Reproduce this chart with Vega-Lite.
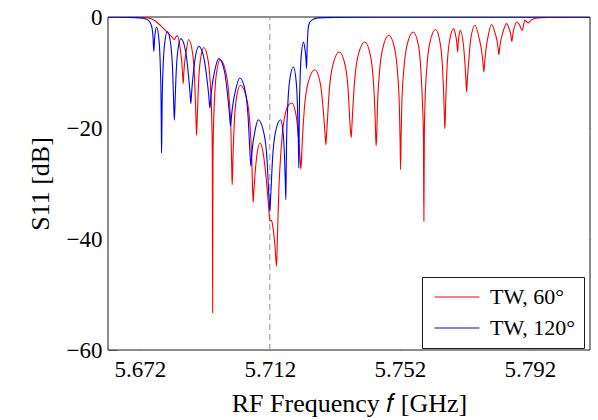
{
  "$schema": "https://vega.github.io/schema/vega-lite/v6.json",
  "width": 482,
  "height": 333,
  "autosize": {"type": "none"},
  "padding": {"left": 108, "top": 17, "right": 8, "bottom": 70},
  "background": "white",
  "config": {
    "view": {"stroke": null},
    "font": "Liberation Serif",
    "axis": {
      "grid": false,
      "domain": false,
      "ticks": true,
      "tickColor": "#7a7a7a",
      "tickSize": 9,
      "tickWidth": 1,
      "offset": -9,
      "labelFont": "Liberation Serif",
      "labelFontSize": 23,
      "labelColor": "black",
      "titleFont": "Liberation Serif",
      "titleFontSize": 26,
      "titleFontWeight": "normal",
      "titleColor": "black"
    }
  },
  "datasets": {
    "frame": [{"x1": 5.6622, "x2": 5.8105, "y1": -60, "y2": 0}],
    "ref": [{"f": 5.712, "lo": -60, "hi": 0}],
    "s11": [
      {"s": "TW, 60°", "f": 5.662154, "db": -0.02},
      {"s": "TW, 60°", "f": 5.672, "db": -0.04},
      {"s": "TW, 60°", "f": 5.674462, "db": -0.15},
      {"s": "TW, 60°", "f": 5.676, "db": -0.45},
      {"s": "TW, 60°", "f": 5.677231, "db": -0.95},
      {"s": "TW, 60°", "f": 5.679077, "db": -1.95},
      {"s": "TW, 60°", "f": 5.680615, "db": -2.85},
      {"s": "TW, 60°", "f": 5.681846, "db": -3.6},
      {"s": "TW, 60°", "f": 5.682554, "db": -4.05},
      {"s": "TW, 60°", "f": 5.683077, "db": -3.6},
      {"s": "TW, 60°", "f": 5.6836, "db": -3.4},
      {"s": "TW, 60°", "f": 5.684462, "db": -5.9},
      {"s": "TW, 60°", "f": 5.684892, "db": -8.13},
      {"s": "TW, 60°", "f": 5.685151, "db": -10.28},
      {"s": "TW, 60°", "f": 5.685323, "db": -12.0},
      {"s": "TW, 60°", "f": 5.685492, "db": -10.41},
      {"s": "TW, 60°", "f": 5.685748, "db": -8.42},
      {"s": "TW, 60°", "f": 5.686169, "db": -6.55},
      {"s": "TW, 60°", "f": 5.687015, "db": -4.05},
      {"s": "TW, 60°", "f": 5.688231, "db": -6.55},
      {"s": "TW, 60°", "f": 5.68884, "db": -11.05},
      {"s": "TW, 60°", "f": 5.6892, "db": -17.05},
      {"s": "TW, 60°", "f": 5.689348, "db": -19.92},
      {"s": "TW, 60°", "f": 5.689446, "db": -21.3},
      {"s": "TW, 60°", "f": 5.689535, "db": -20.04},
      {"s": "TW, 60°", "f": 5.689671, "db": -18.14},
      {"s": "TW, 60°", "f": 5.690009, "db": -12.5},
      {"s": "TW, 60°", "f": 5.690569, "db": -8.0},
      {"s": "TW, 60°", "f": 5.691692, "db": -5.5},
      {"s": "TW, 60°", "f": 5.693046, "db": -8.0},
      {"s": "TW, 60°", "f": 5.693723, "db": -12.5},
      {"s": "TW, 60°", "f": 5.694129, "db": -18.5},
      {"s": "TW, 60°", "f": 5.694292, "db": -24.5},
      {"s": "TW, 60°", "f": 5.6944, "db": -53.3},
      {"s": "TW, 60°", "f": 5.694492, "db": -26.7},
      {"s": "TW, 60°", "f": 5.694631, "db": -20.7},
      {"s": "TW, 60°", "f": 5.694978, "db": -14.7},
      {"s": "TW, 60°", "f": 5.695554, "db": -10.2},
      {"s": "TW, 60°", "f": 5.696708, "db": -7.7},
      {"s": "TW, 60°", "f": 5.698554, "db": -10.2},
      {"s": "TW, 60°", "f": 5.699477, "db": -14.7},
      {"s": "TW, 60°", "f": 5.700031, "db": -20.7},
      {"s": "TW, 60°", "f": 5.700252, "db": -26.7},
      {"s": "TW, 60°", "f": 5.7004, "db": -30.2},
      {"s": "TW, 60°", "f": 5.700502, "db": -28.77},
      {"s": "TW, 60°", "f": 5.700652, "db": -25.3},
      {"s": "TW, 60°", "f": 5.701031, "db": -19.3},
      {"s": "TW, 60°", "f": 5.701662, "db": -14.8},
      {"s": "TW, 60°", "f": 5.702923, "db": -12.3},
      {"s": "TW, 60°", "f": 5.704892, "db": -14.8},
      {"s": "TW, 60°", "f": 5.705877, "db": -19.3},
      {"s": "TW, 60°", "f": 5.706406, "db": -25.3},
      {"s": "TW, 60°", "f": 5.706705, "db": -31.3},
      {"s": "TW, 60°", "f": 5.706862, "db": -33.4},
      {"s": "TW, 60°", "f": 5.707077, "db": -31.26},
      {"s": "TW, 60°", "f": 5.7074, "db": -28.59},
      {"s": "TW, 60°", "f": 5.707938, "db": -25.2},
      {"s": "TW, 60°", "f": 5.709015, "db": -22.7},
      {"s": "TW, 60°", "f": 5.709846, "db": -24.2},
      {"s": "TW, 60°", "f": 5.710769, "db": -28.5},
      {"s": "TW, 60°", "f": 5.711538, "db": -33.5},
      {"s": "TW, 60°", "f": 5.712, "db": -36.8},
      {"s": "TW, 60°", "f": 5.712462, "db": -36.6},
      {"s": "TW, 60°", "f": 5.712923, "db": -37.8},
      {"s": "TW, 60°", "f": 5.713538, "db": -41.0},
      {"s": "TW, 60°", "f": 5.714062, "db": -44.9},
      {"s": "TW, 60°", "f": 5.714308, "db": -40.0},
      {"s": "TW, 60°", "f": 5.714769, "db": -31.0},
      {"s": "TW, 60°", "f": 5.715385, "db": -24.5},
      {"s": "TW, 60°", "f": 5.716092, "db": -19.7},
      {"s": "TW, 60°", "f": 5.716923, "db": -17.0},
      {"s": "TW, 60°", "f": 5.717846, "db": -15.8},
      {"s": "TW, 60°", "f": 5.718769, "db": -15.5},
      {"s": "TW, 60°", "f": 5.720154, "db": -18.0},
      {"s": "TW, 60°", "f": 5.720846, "db": -22.05},
      {"s": "TW, 60°", "f": 5.721262, "db": -25.02},
      {"s": "TW, 60°", "f": 5.721538, "db": -27.4},
      {"s": "TW, 60°", "f": 5.721711, "db": -25.97},
      {"s": "TW, 60°", "f": 5.721969, "db": -22.5},
      {"s": "TW, 60°", "f": 5.722615, "db": -16.5},
      {"s": "TW, 60°", "f": 5.723692, "db": -12.0},
      {"s": "TW, 60°", "f": 5.725846, "db": -9.5},
      {"s": "TW, 60°", "f": 5.727538, "db": -12.0},
      {"s": "TW, 60°", "f": 5.728385, "db": -16.5},
      {"s": "TW, 60°", "f": 5.728892, "db": -20.3},
      {"s": "TW, 60°", "f": 5.729231, "db": -23.0},
      {"s": "TW, 60°", "f": 5.729397, "db": -21.66},
      {"s": "TW, 60°", "f": 5.729646, "db": -19.3},
      {"s": "TW, 60°", "f": 5.730271, "db": -13.3},
      {"s": "TW, 60°", "f": 5.731308, "db": -8.8},
      {"s": "TW, 60°", "f": 5.733385, "db": -6.3},
      {"s": "TW, 60°", "f": 5.7352, "db": -8.8},
      {"s": "TW, 60°", "f": 5.736108, "db": -13.3},
      {"s": "TW, 60°", "f": 5.736591, "db": -18.62},
      {"s": "TW, 60°", "f": 5.737015, "db": -21.7},
      {"s": "TW, 60°", "f": 5.737185, "db": -20.32},
      {"s": "TW, 60°", "f": 5.737437, "db": -17.5},
      {"s": "TW, 60°", "f": 5.738071, "db": -11.5},
      {"s": "TW, 60°", "f": 5.739123, "db": -7.0},
      {"s": "TW, 60°", "f": 5.741231, "db": -4.5},
      {"s": "TW, 60°", "f": 5.742969, "db": -7.0},
      {"s": "TW, 60°", "f": 5.74384, "db": -11.5},
      {"s": "TW, 60°", "f": 5.74436, "db": -17.5},
      {"s": "TW, 60°", "f": 5.744569, "db": -21.7},
      {"s": "TW, 60°", "f": 5.744708, "db": -23.2},
      {"s": "TW, 60°", "f": 5.744865, "db": -21.6},
      {"s": "TW, 60°", "f": 5.745098, "db": -16.3},
      {"s": "TW, 60°", "f": 5.745686, "db": -10.3},
      {"s": "TW, 60°", "f": 5.746662, "db": -5.8},
      {"s": "TW, 60°", "f": 5.748615, "db": -3.3},
      {"s": "TW, 60°", "f": 5.750415, "db": -5.8},
      {"s": "TW, 60°", "f": 5.751317, "db": -10.3},
      {"s": "TW, 60°", "f": 5.751855, "db": -16.3},
      {"s": "TW, 60°", "f": 5.752071, "db": -22.3},
      {"s": "TW, 60°", "f": 5.752215, "db": -27.5},
      {"s": "TW, 60°", "f": 5.752369, "db": -21.7},
      {"s": "TW, 60°", "f": 5.752603, "db": -15.7},
      {"s": "TW, 60°", "f": 5.753185, "db": -9.7},
      {"s": "TW, 60°", "f": 5.754154, "db": -5.2},
      {"s": "TW, 60°", "f": 5.756092, "db": -2.7},
      {"s": "TW, 60°", "f": 5.757738, "db": -5.2},
      {"s": "TW, 60°", "f": 5.758471, "db": -9.7},
      {"s": "TW, 60°", "f": 5.758963, "db": -15.7},
      {"s": "TW, 60°", "f": 5.759252, "db": -21.7},
      {"s": "TW, 60°", "f": 5.759385, "db": -36.8},
      {"s": "TW, 60°", "f": 5.759529, "db": -21.25},
      {"s": "TW, 60°", "f": 5.759745, "db": -15.25},
      {"s": "TW, 60°", "f": 5.760286, "db": -9.25},
      {"s": "TW, 60°", "f": 5.761185, "db": -4.75},
      {"s": "TW, 60°", "f": 5.762985, "db": -2.25},
      {"s": "TW, 60°", "f": 5.764415, "db": -4.75},
      {"s": "TW, 60°", "f": 5.765132, "db": -9.25},
      {"s": "TW, 60°", "f": 5.76556, "db": -15.25},
      {"s": "TW, 60°", "f": 5.765732, "db": -18.67},
      {"s": "TW, 60°", "f": 5.765846, "db": -20.1},
      {"s": "TW, 60°", "f": 5.765954, "db": -18.66},
      {"s": "TW, 60°", "f": 5.766117, "db": -15.1},
      {"s": "TW, 60°", "f": 5.766523, "db": -9.1},
      {"s": "TW, 60°", "f": 5.7672, "db": -4.6},
      {"s": "TW, 60°", "f": 5.768554, "db": -2.1},
      {"s": "TW, 60°", "f": 5.769169, "db": -3.36},
      {"s": "TW, 60°", "f": 5.769477, "db": -4.41},
      {"s": "TW, 60°", "f": 5.769785, "db": -6.3},
      {"s": "TW, 60°", "f": 5.769969, "db": -4.55},
      {"s": "TW, 60°", "f": 5.770169, "db": -3.57},
      {"s": "TW, 60°", "f": 5.770554, "db": -2.4},
      {"s": "TW, 60°", "f": 5.771538, "db": -4.9},
      {"s": "TW, 60°", "f": 5.772031, "db": -8.5},
      {"s": "TW, 60°", "f": 5.772326, "db": -11.28},
      {"s": "TW, 60°", "f": 5.772523, "db": -13.5},
      {"s": "TW, 60°", "f": 5.772778, "db": -11.1},
      {"s": "TW, 60°", "f": 5.773163, "db": -8.1},
      {"s": "TW, 60°", "f": 5.7738, "db": -4.0},
      {"s": "TW, 60°", "f": 5.775077, "db": -1.5},
      {"s": "TW, 60°", "f": 5.776462, "db": -4.0},
      {"s": "TW, 60°", "f": 5.777154, "db": -6.12},
      {"s": "TW, 60°", "f": 5.777569, "db": -8.22},
      {"s": "TW, 60°", "f": 5.777846, "db": -9.9},
      {"s": "TW, 60°", "f": 5.778083, "db": -8.19},
      {"s": "TW, 60°", "f": 5.77844, "db": -6.05},
      {"s": "TW, 60°", "f": 5.779031, "db": -3.85},
      {"s": "TW, 60°", "f": 5.780215, "db": -1.35},
      {"s": "TW, 60°", "f": 5.781338, "db": -2.99},
      {"s": "TW, 60°", "f": 5.781901, "db": -4.35},
      {"s": "TW, 60°", "f": 5.782237, "db": -5.71},
      {"s": "TW, 60°", "f": 5.782462, "db": -6.8},
      {"s": "TW, 60°", "f": 5.782698, "db": -5.68},
      {"s": "TW, 60°", "f": 5.783055, "db": -4.28},
      {"s": "TW, 60°", "f": 5.783646, "db": -2.88},
      {"s": "TW, 60°", "f": 5.784831, "db": -1.2},
      {"s": "TW, 60°", "f": 5.785646, "db": -2.16},
      {"s": "TW, 60°", "f": 5.786055, "db": -2.96},
      {"s": "TW, 60°", "f": 5.786462, "db": -4.4},
      {"s": "TW, 60°", "f": 5.786825, "db": -2.83},
      {"s": "TW, 60°", "f": 5.787185, "db": -1.95},
      {"s": "TW, 60°", "f": 5.787908, "db": -0.9},
      {"s": "TW, 60°", "f": 5.788769, "db": -1.35},
      {"s": "TW, 60°", "f": 5.789631, "db": -2.4},
      {"s": "TW, 60°", "f": 5.790462, "db": -0.6},
      {"s": "TW, 60°", "f": 5.791477, "db": -1.05},
      {"s": "TW, 60°", "f": 5.792308, "db": -0.6},
      {"s": "TW, 60°", "f": 5.793231, "db": -0.3},
      {"s": "TW, 60°", "f": 5.794462, "db": -0.15},
      {"s": "TW, 60°", "f": 5.797538, "db": -0.06},
      {"s": "TW, 60°", "f": 5.8104, "db": -0.02},
      {"s": "TW, 120°", "f": 5.662154, "db": -0.05},
      {"s": "TW, 120°", "f": 5.668923, "db": -0.08},
      {"s": "TW, 120°", "f": 5.672, "db": -0.15},
      {"s": "TW, 120°", "f": 5.673538, "db": -0.3},
      {"s": "TW, 120°", "f": 5.674769, "db": -0.7},
      {"s": "TW, 120°", "f": 5.675538, "db": -1.5},
      {"s": "TW, 120°", "f": 5.676, "db": -3.2},
      {"s": "TW, 120°", "f": 5.676308, "db": -6.2},
      {"s": "TW, 120°", "f": 5.676523, "db": -4.0},
      {"s": "TW, 120°", "f": 5.676738, "db": -2.8},
      {"s": "TW, 120°", "f": 5.677138, "db": -1.8},
      {"s": "TW, 120°", "f": 5.677908, "db": -4.3},
      {"s": "TW, 120°", "f": 5.678292, "db": -8.8},
      {"s": "TW, 120°", "f": 5.678523, "db": -14.8},
      {"s": "TW, 120°", "f": 5.678615, "db": -20.8},
      {"s": "TW, 120°", "f": 5.678677, "db": -24.5},
      {"s": "TW, 120°", "f": 5.678748, "db": -21.6},
      {"s": "TW, 120°", "f": 5.678855, "db": -15.6},
      {"s": "TW, 120°", "f": 5.679123, "db": -9.6},
      {"s": "TW, 120°", "f": 5.679569, "db": -5.1},
      {"s": "TW, 120°", "f": 5.680462, "db": -2.6},
      {"s": "TW, 120°", "f": 5.681538, "db": -5.1},
      {"s": "TW, 120°", "f": 5.682077, "db": -9.6},
      {"s": "TW, 120°", "f": 5.6824, "db": -15.4},
      {"s": "TW, 120°", "f": 5.682615, "db": -18.6},
      {"s": "TW, 120°", "f": 5.682815, "db": -15.66},
      {"s": "TW, 120°", "f": 5.683108, "db": -10.9},
      {"s": "TW, 120°", "f": 5.683615, "db": -6.4},
      {"s": "TW, 120°", "f": 5.684615, "db": -3.9},
      {"s": "TW, 120°", "f": 5.686154, "db": -6.4},
      {"s": "TW, 120°", "f": 5.686923, "db": -10.3},
      {"s": "TW, 120°", "f": 5.687385, "db": -13.26},
      {"s": "TW, 120°", "f": 5.687692, "db": -15.6},
      {"s": "TW, 120°", "f": 5.687938, "db": -13.54},
      {"s": "TW, 120°", "f": 5.688308, "db": -10.97},
      {"s": "TW, 120°", "f": 5.688923, "db": -7.8},
      {"s": "TW, 120°", "f": 5.690154, "db": -5.3},
      {"s": "TW, 120°", "f": 5.691846, "db": -7.8},
      {"s": "TW, 120°", "f": 5.692692, "db": -11.4},
      {"s": "TW, 120°", "f": 5.6932, "db": -14.18},
      {"s": "TW, 120°", "f": 5.693538, "db": -16.4},
      {"s": "TW, 120°", "f": 5.693815, "db": -14.62},
      {"s": "TW, 120°", "f": 5.694231, "db": -12.4},
      {"s": "TW, 120°", "f": 5.694923, "db": -10.0},
      {"s": "TW, 120°", "f": 5.696308, "db": -7.5},
      {"s": "TW, 120°", "f": 5.698108, "db": -10.0},
      {"s": "TW, 120°", "f": 5.699015, "db": -14.2},
      {"s": "TW, 120°", "f": 5.699538, "db": -17.26},
      {"s": "TW, 120°", "f": 5.699908, "db": -19.7},
      {"s": "TW, 120°", "f": 5.700185, "db": -17.96},
      {"s": "TW, 120°", "f": 5.700615, "db": -15.79},
      {"s": "TW, 120°", "f": 5.701338, "db": -13.5},
      {"s": "TW, 120°", "f": 5.702769, "db": -11.0},
      {"s": "TW, 120°", "f": 5.704462, "db": -13.5},
      {"s": "TW, 120°", "f": 5.705308, "db": -18.0},
      {"s": "TW, 120°", "f": 5.705815, "db": -23.72},
      {"s": "TW, 120°", "f": 5.706154, "db": -26.9},
      {"s": "TW, 120°", "f": 5.706378, "db": -25.22},
      {"s": "TW, 120°", "f": 5.706708, "db": -23.12},
      {"s": "TW, 120°", "f": 5.707277, "db": -21.0},
      {"s": "TW, 120°", "f": 5.7084, "db": -18.5},
      {"s": "TW, 120°", "f": 5.7102, "db": -21.0},
      {"s": "TW, 120°", "f": 5.711108, "db": -25.5},
      {"s": "TW, 120°", "f": 5.711631, "db": -31.5},
      {"s": "TW, 120°", "f": 5.711846, "db": -33.68},
      {"s": "TW, 120°", "f": 5.712, "db": -35.0},
      {"s": "TW, 120°", "f": 5.712132, "db": -33.68},
      {"s": "TW, 120°", "f": 5.712329, "db": -31.5},
      {"s": "TW, 120°", "f": 5.712831, "db": -25.5},
      {"s": "TW, 120°", "f": 5.713646, "db": -21.0},
      {"s": "TW, 120°", "f": 5.715292, "db": -18.5},
      {"s": "TW, 120°", "f": 5.716108, "db": -21.0},
      {"s": "TW, 120°", "f": 5.716523, "db": -25.5},
      {"s": "TW, 120°", "f": 5.71676, "db": -30.02},
      {"s": "TW, 120°", "f": 5.716923, "db": -32.9},
      {"s": "TW, 120°", "f": 5.717015, "db": -28.0},
      {"s": "TW, 120°", "f": 5.717154, "db": -22.0},
      {"s": "TW, 120°", "f": 5.717508, "db": -16.0},
      {"s": "TW, 120°", "f": 5.718077, "db": -11.5},
      {"s": "TW, 120°", "f": 5.719231, "db": -9.0},
      {"s": "TW, 120°", "f": 5.720077, "db": -11.5},
      {"s": "TW, 120°", "f": 5.720492, "db": -16.0},
      {"s": "TW, 120°", "f": 5.720754, "db": -22.0},
      {"s": "TW, 120°", "f": 5.720862, "db": -25.74},
      {"s": "TW, 120°", "f": 5.720923, "db": -27.2},
      {"s": "TW, 120°", "f": 5.720985, "db": -23.5},
      {"s": "TW, 120°", "f": 5.721068, "db": -17.5},
      {"s": "TW, 120°", "f": 5.721292, "db": -11.5},
      {"s": "TW, 120°", "f": 5.721646, "db": -7.0},
      {"s": "TW, 120°", "f": 5.722369, "db": -4.5},
      {"s": "TW, 120°", "f": 5.722831, "db": -5.94},
      {"s": "TW, 120°", "f": 5.723062, "db": -7.14},
      {"s": "TW, 120°", "f": 5.723292, "db": -9.3},
      {"s": "TW, 120°", "f": 5.723477, "db": -5.5},
      {"s": "TW, 120°", "f": 5.723692, "db": -2.8},
      {"s": "TW, 120°", "f": 5.724, "db": -1.35},
      {"s": "TW, 120°", "f": 5.724831, "db": -0.6},
      {"s": "TW, 120°", "f": 5.726769, "db": -0.15},
      {"s": "TW, 120°", "f": 5.732, "db": -0.08},
      {"s": "TW, 120°", "f": 5.752, "db": -0.04},
      {"s": "TW, 120°", "f": 5.8104, "db": -0.02}
    ]
  },
  "layer": [
    {
      "data": {"name": "frame"},
      "mark": {"type": "rect", "fill": "white", "stroke": "#1a1a1a", "strokeWidth": 1},
      "encoding": {
        "x": {"field": "x1", "type": "quantitative", "scale": {"domain": [5.6622, 5.8105], "nice": false, "zero": false}, "axis": null},
        "x2": {"field": "x2"},
        "y": {"field": "y1", "type": "quantitative", "scale": {"domain": [-60, 0], "nice": false}, "axis": null},
        "y2": {"field": "y2"}
      }
    },
    {
      "data": {"name": "ref"},
      "mark": {"type": "rule", "strokeDash": [6, 4], "color": "#8f8f8f", "strokeWidth": 1},
      "encoding": {
        "x": {
          "field": "f", "type": "quantitative",
          "scale": {"domain": [5.6622, 5.8105], "nice": false, "zero": false},
          "axis": {"orient": "top", "labels": false, "title": null, "values": [5.672, 5.712, 5.752, 5.792]}
        },
        "y": {
          "field": "lo", "type": "quantitative",
          "scale": {"domain": [-60, 0], "nice": false},
          "axis": {"orient": "right", "labels": false, "title": null, "values": [-40, -20]}
        },
        "y2": {"field": "hi"}
      }
    },
    {
      "data": {"name": "s11"},
      "mark": {"type": "line", "interpolate": "monotone", "strokeWidth": 1.1, "clip": true},
      "encoding": {
        "x": {
          "field": "f", "type": "quantitative",
          "scale": {"domain": [5.6622, 5.8105], "nice": false, "zero": false},
          "axis": {"orient": "bottom", "values": [5.672, 5.712, 5.752, 5.792], "format": ".3f", "labelPadding": 8, "title": "RF Frequency 𝑓 [GHz]", "titlePadding": 9}
        },
        "y": {
          "field": "db", "type": "quantitative",
          "scale": {"domain": [-60, 0], "nice": false},
          "axis": {"orient": "left", "values": [-60, -40, -20, 0], "labelPadding": 6, "title": "S11 [dB]", "titlePadding": 13}
        },
        "color": {
          "field": "s", "type": "nominal",
          "scale": {"domain": ["TW, 60°", "TW, 120°"], "range": ["#ff0000", "#0000ff"]},
          "legend": {
            "orient": "none", "legendX": 314, "legendY": 260,
            "title": null,
            "symbolType": "M-3,0H3", "symbolSize": 225, "symbolStrokeWidth": 1.2,
            "symbolOffset": 15,
            "labelFont": "Liberation Serif", "labelFontSize": 22, "labelColor": "black",
            "labelOffset": 22,
            "strokeColor": "#1a1a1a", "fillColor": "white",
            "padding": 9, "rowPadding": 9
          }
        }
      }
    }
  ],
  "resolve": {"axis": {"x": "independent", "y": "independent"}}
}
